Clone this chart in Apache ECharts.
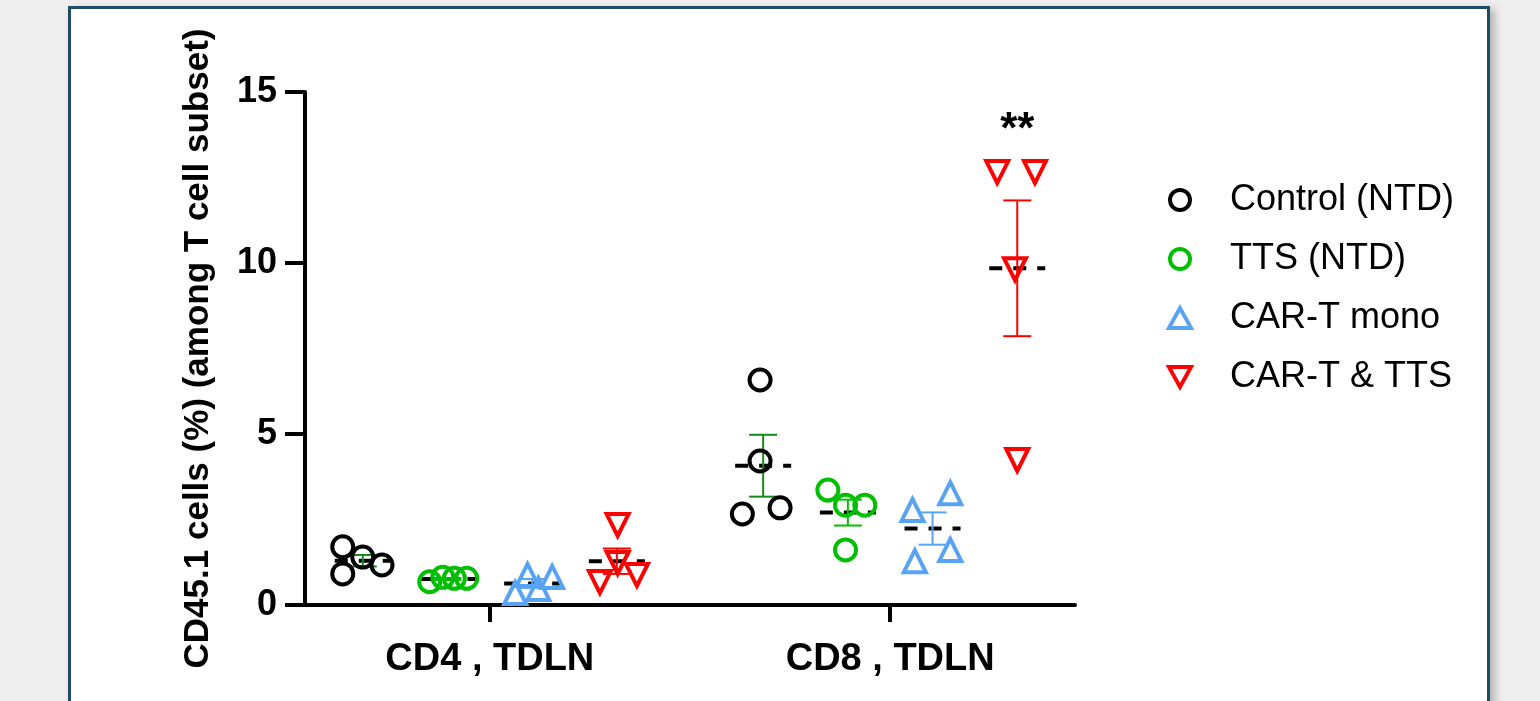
<!DOCTYPE html>
<html>
<head>
<meta charset="utf-8">
<script src="https://cdn.jsdelivr.net/npm/echarts@6/dist/echarts.min.js"></script>
<style>
  html, body { margin: 0; padding: 0; background: #efefef; overflow: hidden; }
  #frame {
    position: absolute; left: 68px; top: 6px; width: 1416px; height: 720px;
    background: #fff; border: 3px solid #1d4e65;
    box-shadow: 5px 3px 8px rgba(0, 0, 0, 0.25);
  }
  #chart { position: absolute; left: 0; top: 0; width: 1540px; height: 701px; }
</style>
</head>
<body>
<div id="frame"></div>
<div id="chart"></div>
<script>
  // categories and their centres on the hidden value x axis
  const categories = ["CD4 , TDLN", "CD8 , TDLN"];
  const catCenter = [2.4, 7.6];
  const groupNames = ["Control (NTD)", "TTS (NTD)", "CAR-T mono", "CAR-T & TTS"];
  const groupOffset = [-1.65, -0.55, 0.55, 1.65];

  // values per group: [CD4 points, CD8 points]
  const control = [[1.70, 1.40, 1.17, 0.91], [6.58, 4.21, 2.66, 2.84]];
  const tts = [[0.68, 0.81, 0.78, 0.78], [3.36, 2.92, 2.92, 1.61]];
  const carT = [[0.88, 0.82, 0.47, 0.35], [2.78, 3.27, 1.61, 1.28]];
  const carTTts = [[2.34, 1.23, 0.67, 0.88], [12.66, 12.66, 9.82, 4.24]];

  // horizontal spread of the dots inside each column
  const controlJitter = [[-0.26, 0, 0.25, -0.26], [-0.04, -0.04, -0.27, 0.22]];
  const ttsJitter = [[-0.23, -0.06, 0.09, 0.25], [-0.26, -0.03, 0.22, -0.03]];
  const carTJitter = [[-0.06, 0.26, 0.08, -0.22], [-0.26, 0.23, 0.23, -0.23]];
  const carTTtsJitter = [[0.01, 0.01, -0.22, 0.26], [-0.26, 0.23, -0.03, 0]];

  const yTicks = [0, 5, 10, 15];
  const stars = [{ cat: 1, group: 3, y: 13.85, text: "**" }];

  const allValues = [control, tts, carT, carTTts];
  const allJitter = [controlJitter, ttsJitter, carTJitter, carTTtsJitter];
  const colors = ["#000000", "#00bf00", "#59a3f5", "#ff0000"];
  const barColors = ["#15891a", "#00bf00", "#59a3f5", "#ff0000"];
  const symbols = ["circle", "circle", "triangle", "triangle"];
  const rotates = [0, 0, 0, 180];
  const sizes = [21, 21, 22, 22];
  const legendIcons = ["circle", "circle", "path://M5,0 L10,9 L0,9 Z", "path://M0,0 L10,0 L5,9 Z"];
  const font = "'Liberation Sans', Arial, sans-serif";

  const meanSem = (arr) => {
    const n = arr.length;
    const m = arr.reduce((a, b) => a + b, 0) / n;
    const sd = Math.sqrt(arr.reduce((a, b) => a + (b - m) * (b - m), 0) / (n - 1));
    return [m, sd / Math.sqrt(n)];
  };

  const series = [];
  const statData = [];
  for (let g = 0; g < 4; g++) {
    const pts = [];
    const bars = [];
    for (let c = 0; c < 2; c++) {
      const x0 = catCenter[c] + groupOffset[g];
      allValues[g][c].forEach((v, i) => pts.push([x0 + allJitter[g][c][i], v]));
      const ms = meanSem(allValues[g][c]);
      bars.push([x0, ms[0], ms[1]]);
      statData.push([x0, ms[0]]);
    }
    series.push({
      name: groupNames[g],
      type: "scatter",
      symbol: symbols[g],
      symbolRotate: rotates[g],
      symbolSize: sizes[g],
      itemStyle: { color: "transparent", borderColor: colors[g], borderWidth: 4, opacity: 1 },
      data: pts,
      z: 4,
      silent: true,
    });
    series.push({
      type: "custom",
      data: bars,
      z: 3,
      silent: true,
      renderItem: (params, api) => {
        const x = api.value(0), m = api.value(1), s = api.value(2);
        const top = api.coord([x, m + s]);
        const bot = api.coord([x, m - s]);
        const cap = 14;
        const st = { stroke: barColors[g], lineWidth: 2 };
        return {
          type: "group",
          children: [
            { type: "line", shape: { x1: top[0], y1: top[1], x2: bot[0], y2: bot[1] }, style: st },
            { type: "line", shape: { x1: top[0] - cap, y1: top[1], x2: top[0] + cap, y2: top[1] }, style: st },
            { type: "line", shape: { x1: bot[0] - cap, y1: bot[1], x2: bot[0] + cap, y2: bot[1] }, style: st },
          ],
        };
      },
    });
  }

  // dashed mean lines
  series.push({
    type: "custom",
    data: statData,
    z: 2,
    silent: true,
    renderItem: (params, api) => {
      const p = api.coord([api.value(0), api.value(1)]);
      return {
        type: "line",
        shape: { x1: p[0] - 28, y1: p[1], x2: p[0] + 28, y2: p[1] },
        style: { stroke: "#000", lineWidth: 4, lineDash: [13, 11] },
      };
    },
  });

  // significance stars
  series.push({
    type: "scatter",
    symbolSize: 0,
    silent: true,
    itemStyle: { color: "#000", opacity: 1 },
    data: stars.map((s) => [catCenter[s.cat] + groupOffset[s.group], s.y, s.text]),
    label: {
      show: true,
      position: "inside",
      formatter: (p) => p.value[2],
      color: "#000",
      opacity: 1,
      textBorderWidth: 0,
      fontSize: 44,
      fontWeight: "bold",
      fontFamily: font,
    },
  });

  const option = {
    animation: false,
    grid: { left: 305, right: 465, top: 92, bottom: 96, containLabel: false },
    legend: {
      data: groupNames.map((n, i) => ({ name: n, icon: legendIcons[i] })),
      orient: "vertical",
      left: 1167,
      top: 180,
      padding: 0,
      itemWidth: 22,
      itemHeight: 20,
      itemGap: 19,
      selectedMode: false,
      itemStyle: { borderWidth: 4, color: "transparent" },
      textStyle: { fontSize: 36, lineHeight: 40, color: "#000", fontFamily: font, padding: [0, 0, 0, 34] },
    },
    xAxis: {
      type: "value",
      min: 0,
      max: 10,
      splitLine: { show: false },
      axisLine: { show: true, onZero: false, lineStyle: { color: "#000", width: 4 } },
      axisTick: { show: true, length: 17, customValues: catCenter, lineStyle: { color: "#000", width: 4 } },
      axisLabel: {
        customValues: catCenter,
        margin: 36,
        formatter: (v) => categories[catCenter.indexOf(v)] || "",
        color: "#000",
        fontSize: 38,
        fontWeight: "bold",
        fontFamily: font,
      },
    },
    yAxis: {
      type: "value",
      min: 0,
      max: 15,
      interval: 5,
      name: "CD45.1 cells (%) (among T cell subset)",
      nameLocation: "middle",
      nameGap: 89,
      nameTextStyle: { color: "#000", fontSize: 35, fontWeight: "bold", fontFamily: font },
      splitLine: { show: false },
      axisLine: { show: true, lineStyle: { color: "#000", width: 4 } },
      axisTick: { show: true, length: 20, lineStyle: { color: "#000", width: 4 } },
      axisLabel: {
        margin: 28,
        formatter: (v) => (yTicks.includes(v) ? String(v) : ""),
        color: "#000",
        fontSize: 36,
        fontWeight: "bold",
        fontFamily: font,
      },
    },
    series: series,
  };

  const myChart = echarts.init(document.getElementById("chart"));
  myChart.setOption(option);
</script>
</body>
</html>
